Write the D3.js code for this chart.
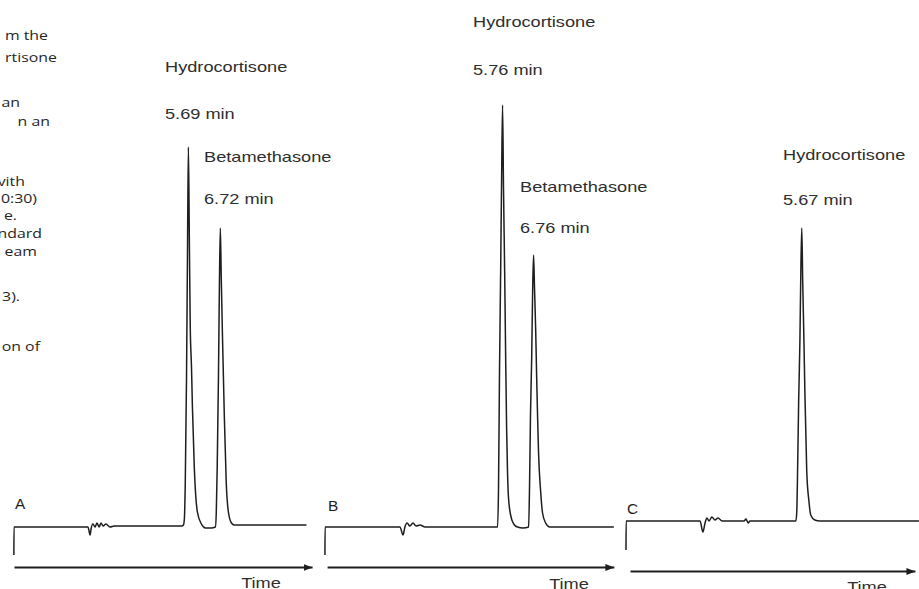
<!DOCTYPE html>
<html>
<head>
<meta charset="utf-8">
<script src="https://cdn.jsdelivr.net/npm/d3@7"></script>
<style>
  html, body { margin: 0; padding: 0; background: #fff; }
  svg { display: block; }
</style>
</head>
<body>
<svg id="chart" width="919" height="589"></svg>
<script>
// HPLC chromatograms of hydrocortisone / betamethasone, panels A, B and C.

const panelIds = ["A", "B", "C"];

// Labelled peaks: compound names and retention times (min)
const peakNamesA = ["Hydrocortisone", "Betamethasone"];
const retentionA = [5.69, 6.72];
const peakNamesB = ["Hydrocortisone", "Betamethasone"];
const retentionB = [5.76, 6.76];
const peakNamesC = ["Hydrocortisone"];
const retentionC = [5.67];

// Detector traces: time (min) and signal (arbitrary units above baseline)
const traceTimeA = [0.06, 0.065, 2.45, 2.52, 2.55, 2.61, 2.68, 2.74, 2.81, 2.87, 2.94, 3.03, 3.16, 3.30,
                    5.48, 5.53, 5.56, 5.59, 5.63, 5.66, 5.69, 5.72, 5.75, 5.79, 5.82, 5.88, 5.98, 6.11, 6.24, 6.43,
                    6.56, 6.59, 6.62, 6.66, 6.69, 6.72, 6.75, 6.79, 6.82, 6.85, 6.91, 6.98, 7.08, 7.17, 9.50];
const traceSignalA = [-28, 0, 0, -8, -2, 3, 0, 4, 0, 4, 1, 3, 0, 1,
                      1, 2, 8, 45, 150, 270, 380, 290, 200, 160, 120, 60, 15, 3, -1, -1,
                      0, 15, 60, 150, 240, 299, 250, 190, 150, 110, 45, 15, 4, 2, 2];

const traceTimeB = [0.03, 0.035, 1.80, 2.45, 2.55, 2.61, 2.68, 2.77, 2.87, 2.97, 3.10, 3.26,
                    5.50, 5.60, 5.63, 5.66, 5.70, 5.73, 5.76, 5.79, 5.83, 5.86, 5.89, 5.92, 5.95, 6.02, 6.12, 6.24,
                    6.42,
                    6.60, 6.63, 6.66, 6.70, 6.73, 6.76, 6.79, 6.83, 6.86, 6.89, 6.92, 6.99, 7.05, 7.15, 7.28,
                    9.35];
const traceSignalB = [-28, 0, 0, 0, -8, 0, 4, 1, 4, 1, 2, 0,
                      0, 0, 40, 150, 260, 350, 422, 340, 250, 170, 100, 55, 30, 12, 3, 0,
                      -1,
                      0, 40, 110, 170, 235, 272, 240, 195, 150, 110, 75, 35, 14, 4, 0,
                      0];

const traceTimeC = [0.0, 0.005, 2.39, 2.48, 2.55, 2.61, 2.68, 2.77, 2.87, 2.97, 3.10, 3.81, 3.87, 3.94, 4.00,
                    5.45, 5.48, 5.51, 5.54, 5.57, 5.61, 5.64, 5.67, 5.70, 5.74, 5.77, 5.83, 5.90, 5.96, 6.09, 6.25, 9.45];
const traceSignalC = [-29, 0, 0, -11, -2, 3, 0, 4, 1, 3, 0, 0, 2, -2, 0,
                      0, 0, 10, 60, 120, 180, 250, 293, 240, 180, 130, 50, 20, 6, 1, 0, 0];

// Fragments of the neighbouring caption column, cut by the left edge
const captionLines = ["m the", "rtisone", "an", "n an", "vith", "0:30)", "e.", "ndard", "eam", "3).", "on of"];

// ---- layout (pixels) ----
const pxPerMin = 31;
const layout = {
  A: { x0: 12,  base: 527, axisFrom: 0.065, axisTo: 9.68, axisY: 567, letter: [15, 509], timeLabel: [261, 588],
       labels: [{ x: 165, yName: 72, yRt: 119 }, { x: 204, yName: 162, yRt: 204 }] },
  B: { x0: 324, base: 527, axisFrom: 0.10,  axisTo: 9.35, axisY: 567, letter: [328, 511], timeLabel: [569, 589],
       labels: [{ x: 473, yName: 27, yRt: 75 }, { x: 520, yName: 192, yRt: 233 }] },
  C: { x0: 626, base: 521, axisFrom: 0.13,  axisTo: 9.32, axisY: 571, letter: [627, 514], timeLabel: [867, 592],
       labels: [{ x: 783, yName: 160, yRt: 205 }] }
};
const captionLayout = {
  right: [48, 57, 20, 50, 25, 37, 17, 42, 37, 20, 40],
  y: [40, 62, 107, 126, 186, 203, 220, 238, 256, 301, 351]
};

const series = {
  A: { time: traceTimeA, signal: traceSignalA, names: peakNamesA, rts: retentionA },
  B: { time: traceTimeB, signal: traceSignalB, names: peakNamesB, rts: retentionB },
  C: { time: traceTimeC, signal: traceSignalC, names: peakNamesC, rts: retentionC }
};

const ink = "#1e1e1e";
const textInk = "#2e2e2e";
const labelFont = "'Liberation Sans', Arial, Helvetica, sans-serif";
const stretch = 1.3;

const svg = d3.select("#chart");

// arrowhead for the time axes
svg.append("defs").append("marker")
  .attr("id", "arrowhead")
  .attr("markerUnits", "userSpaceOnUse")
  .attr("markerWidth", 10).attr("markerHeight", 8)
  .attr("refX", 9).attr("refY", 4)
  .attr("orient", "auto")
  .append("path")
  .attr("d", "M0,0.5 L9,4 L0,7.5 Z")
  .attr("fill", ink);

// caption column fragments
svg.append("g")
  .selectAll("text")
  .data(captionLines)
  .join("text")
  .attr("transform", (d, i) => `translate(${captionLayout.right[i]},${captionLayout.y[i]}) scale(1.22,1)`)
  .attr("text-anchor", "end")
  .attr("font-family", "'Open Sans', 'Noto Sans', sans-serif")
  .attr("font-size", 13)
  .attr("fill", "#262626")
  .text(d => d);

const fmt = d3.format(".2f");

panelIds.forEach(id => {
  const L = layout[id];
  const S = series[id];
  const g = svg.append("g").attr("class", "panel panel-" + id);

  const x = d3.scaleLinear().domain([0, 10]).range([L.x0, L.x0 + 10 * pxPerMin]);
  const y = d3.scaleLinear().domain([0, 400]).range([L.base, L.base - 400]);

  const points = S.time.map((t, i) => [t, S.signal[i]]);
  const line = d3.line()
    .x(d => x(d[0]))
    .y(d => y(d[1]))
    .curve(d3.curveMonotoneX);

  g.append("path")
    .datum(points)
    .attr("d", line)
    .attr("fill", "none")
    .attr("stroke", ink)
    .attr("stroke-width", 1.5)
    .attr("stroke-linejoin", "round");

  // time axis drawn as a bare arrow
  const axisScale = x.copy()
    .domain([L.axisFrom, L.axisTo])
    .range([x(L.axisFrom), x(L.axisTo)]);
  const axisG = g.append("g")
    .attr("transform", `translate(0,${L.axisY})`)
    .call(d3.axisBottom(axisScale).tickValues([]).tickSizeOuter(0));
  axisG.select(".domain")
    .attr("stroke", ink)
    .attr("stroke-width", 1.8)
    .attr("marker-end", "url(#arrowhead)");

  g.append("text")
    .attr("transform", `translate(${L.timeLabel[0]},${L.timeLabel[1]}) scale(${stretch},1)`)
    .attr("text-anchor", "middle")
    .attr("font-family", labelFont)
    .attr("font-size", 14)
    .attr("fill", textInk)
    .text("Time");

  // panel letter
  g.append("text")
    .attr("transform", `translate(${L.letter[0]},${L.letter[1]}) scale(1.1,1)`)
    .attr("font-family", labelFont)
    .attr("font-size", 14)
    .attr("fill", ink)
    .text(id);

  // peak annotations: name and retention time
  S.names.forEach((name, i) => {
    const pos = L.labels[i];
    g.append("text")
      .attr("transform", `translate(${pos.x},${pos.yName}) scale(${stretch},1)`)
      .attr("font-family", labelFont)
      .attr("font-size", 14)
      .attr("fill", textInk)
      .text(name);
    g.append("text")
      .attr("transform", `translate(${pos.x},${pos.yRt}) scale(${stretch},1)`)
      .attr("font-family", labelFont)
      .attr("font-size", 14)
      .attr("fill", textInk)
      .text(`${fmt(S.rts[i])} min`);
  });
});
</script>
</body>
</html>
